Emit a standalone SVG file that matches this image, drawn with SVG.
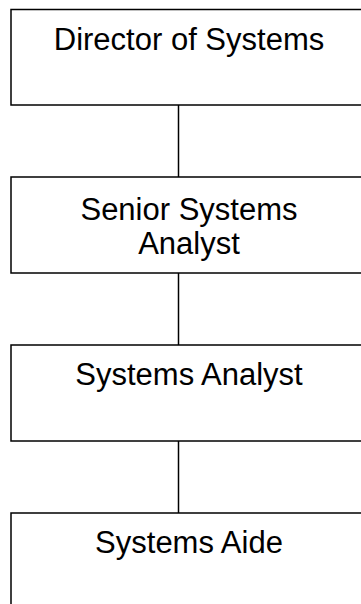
<svg xmlns="http://www.w3.org/2000/svg" width="361" height="604" viewBox="0 0 361 604">
<style>
.box{fill:#fff;stroke:#000;stroke-width:1.5}
.lbl{font-family:"Liberation Sans",Arial,sans-serif;font-size:31px;fill:#000;text-anchor:middle}
.conn{stroke:#000;stroke-width:1.5;fill:none}
</style>
<rect width="361" height="604" fill="#fff"/>
<g id="connectors">
<line class="conn" x1="178.5" y1="105" x2="178.5" y2="177"/>
<line class="conn" x1="178.5" y1="273" x2="178.5" y2="345"/>
<line class="conn" x1="178.5" y1="441" x2="178.5" y2="513"/>
</g>
<g id="director">
<rect class="box" x="11" y="9.5" width="356" height="95.5"/>
<text class="lbl" x="189" y="50">Director of Systems</text>
</g>
<g id="senior">
<rect class="box" x="11" y="177" width="356" height="96"/>
<text class="lbl" x="189" y="219.5">Senior Systems</text>
<text class="lbl" x="189" y="253.5">Analyst</text>
</g>
<g id="analyst">
<rect class="box" x="11" y="345" width="356" height="96"/>
<text class="lbl" x="189" y="385">Systems Analyst</text>
</g>
<g id="aide">
<rect class="box" x="11" y="513" width="356" height="96"/>
<text class="lbl" x="189" y="553">Systems Aide</text>
</g>
</svg>
